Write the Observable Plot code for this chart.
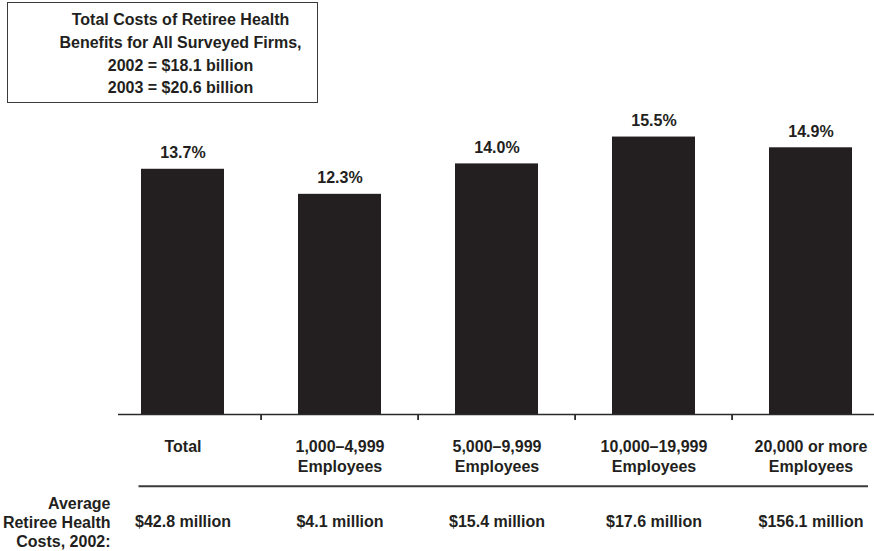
<!DOCTYPE html>
<html>
<head>
<meta charset="utf-8">
<script src="https://cdn.jsdelivr.net/npm/d3@7"></script>
<script src="https://cdn.jsdelivr.net/npm/@observablehq/plot@0.6"></script>
<style>
  html, body { margin: 0; padding: 0; background: #fff; }
  #wrap { position: relative; width: 874px; height: 551px; font-family: "Liberation Sans", Arial, sans-serif; color: #231f20; }
  #box { position: absolute; left: 7px; top: 2px; width: 311px; height: 101px; box-sizing: border-box;
         border: 1.3px solid #3a3a3a; padding: 6px 0 0 36px; text-align: center; font-weight: bold;
         font-size: 16px; line-height: 22.8px; }
  #chart { position: absolute; left: 0; top: 0; }
</style>
</head>
<body>
<div id="wrap">
  <div id="chart"></div>
  <div id="box"></div>
</div>
<script>
const boxLines = ["Total Costs of Retiree Health", "Benefits for All Surveyed Firms,", "2002 = $18.1 billion", "2003 = $20.6 billion"];
const categories = ["Total", "1,000–4,999", "5,000–9,999", "10,000–19,999", "20,000 or more"];
const categoryLabels = ["Total", "1,000–4,999\nEmployees", "5,000–9,999\nEmployees", "10,000–19,999\nEmployees", "20,000 or more\nEmployees"];
const increase = [13.7, 12.3, 14.0, 15.5, 14.9];
const increaseLabels = ["13.7%", "12.3%", "14.0%", "15.5%", "14.9%"];
const avgCostLabels = ["$42.8 million", "$4.1 million", "$15.4 million", "$17.6 million", "$156.1 million"];
const rowLabel = "Average\nRetiree Health\nCosts, 2002:";

document.getElementById("box").innerHTML = boxLines.map(s => `<div>${s}</div>`).join("");

const data = categories.map((c, i) => ({
  category: c, label: categoryLabels[i], value: increase[i], valueLabel: increaseLabels[i], cost: avgCostLabels[i]
}));

const ink = "#231f20";
const xRange = [101.5, 890.5];
const step = (xRange[1] - xRange[0]) / categories.length;
const font = {fontSize: 16, fontWeight: "bold", fill: ink};

const chart = Plot.plot({
  width: 874,
  height: 551,
  marginLeft: 118,
  marginRight: 0,
  marginTop: 0,
  marginBottom: 0,
  style: {fontFamily: "'Liberation Sans', Arial, sans-serif", background: "transparent", overflow: "visible"},
  x: {domain: categories, range: xRange, paddingInner: 0.474, paddingOuter: 0.237, axis: null},
  y: {domain: [0, 16], range: [414, 127.6], axis: null},
  marks: [
    Plot.barY(data, {x: "category", y: "value", fill: ink}),
    Plot.text(data, {x: "category", y: "value", text: "valueLabel", dy: -16, lineAnchor: "middle", ...font}),
    Plot.ruleY([0], {stroke: "#2a2a2a", strokeWidth: 1.3}),
    Plot.ruleX(categories.slice(1), {x: d => d, y1: 0, y2: 0, dx: -step / 2, insetBottom: -6, stroke: "#2a2a2a", strokeWidth: 1.8}),
    Plot.text(data, {x: "category", y: () => 0, text: "label", dy: 23, lineAnchor: "top", lineHeight: 1.25, ...font}),
    Plot.ruleY([0], {x1: () => categories[0], x2: () => categories[categories.length - 1], dy: 71.7, insetLeft: -2.5, insetRight: -16, stroke: "#3a3a3a", strokeWidth: 2}),
    Plot.text(data, {x: "category", y: () => 0, text: "cost", dy: 107.7, lineAnchor: "middle", ...font}),
    Plot.text([rowLabel], {y: () => 0, frameAnchor: "left", text: d => d, textAnchor: "end", dx: -8, dy: 107.7, lineAnchor: "middle", lineHeight: 1.19, ...font})
  ]
});
document.getElementById("chart").appendChild(chart);
</script>
</body>
</html>
